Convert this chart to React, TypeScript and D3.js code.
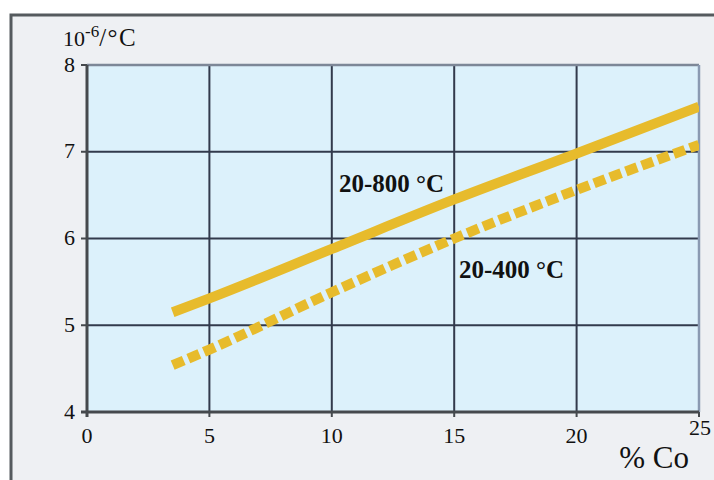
import React from 'react';
import * as d3 from 'd3';

// % Co on the x axis, expansion coefficient (10^-6/°C) on the y axis
const coPercent = [3.5, 5, 10, 15, 20, 25];
const range800 = [5.15, 5.31, 5.88, 6.45, 6.98, 7.52];
const range400 = [4.54, 4.72, 5.38, 6.0, 6.56, 7.08];
const xTicks = [0, 5, 10, 15, 20, 25];
const yTicks = [4, 5, 6, 7, 8];
const seriesLabels = ['20-800 °C', '20-400 °C'];

const width = 714;
const height = 480;
const margin = { left: 87, right: 15, top: 65, bottom: 68 };

const gold = '#E7BB2C';
const gridColor = '#323a4c';
const serif = '"Liberation Serif", "DejaVu Serif", serif';

export default function App() {
    const x = d3.scaleLinear().domain([0, 25]).range([margin.left, width - margin.right]);
    const y = d3.scaleLinear().domain([4, 8]).range([height - margin.bottom, margin.top]);

    const line = d3.line<number>()
        .x((_, i) => x(coPercent[i]))
        .y(d => y(d))
        .curve(d3.curveMonotoneX);

    const [x0, x1] = x.range();
    const [y0, y1] = y.range();

    return (
        <svg width={width} height={height} style={{ position: 'absolute', left: 0, top: 0 }}>
            <defs>
                <clipPath id="plotClip">
                    <rect x={x0} y={y1} width={x1 - x0} height={y0 - y1} />
                </clipPath>
            </defs>

            {/* outer frame */}
            <rect x={0} y={0} width={width} height={height} fill="#ffffff" />
            <rect x={11} y={15} width={width + 20} height={height + 20} fill="#eef0f3" stroke="#555a5e" strokeWidth={3} />

            {/* plot area */}
            <rect x={x0} y={y1} width={x1 - x0} height={y0 - y1} fill="#dcf1fb" />

            {/* grid */}
            {xTicks.slice(1, -1).map(t => (
                <line key={'gx' + t} x1={x(t)} x2={x(t)} y1={y1} y2={y0} stroke={gridColor} strokeWidth={2} />
            ))}
            {yTicks.slice(1, -1).map(t => (
                <line key={'gy' + t} x1={x0} x2={x1} y1={y(t)} y2={y(t)} stroke={gridColor} strokeWidth={2} />
            ))}
            {/* top and right border, lighter */}
            <line x1={x0} x2={x1} y1={y1} y2={y1} stroke="#7d8797" strokeWidth={2.5} />
            <line x1={x1} x2={x1} y1={y1} y2={y0} stroke="#8a9ab2" strokeWidth={2.5} />

            {/* series */}
            <g clipPath="url(#plotClip)">
                <path d={line(range800) || ''} fill="none" stroke={gold} strokeWidth={10} />
                <path d={line(range400) || ''} fill="none" stroke={gold} strokeWidth={10} strokeDasharray="12 5" />
            </g>

            {/* axes */}
            <line x1={x0} x2={x0} y1={y1} y2={y0 + 5} stroke="#45494d" strokeWidth={3} />
            <line x1={x0 - 6} x2={x1} y1={y0} y2={y0} stroke="#45494d" strokeWidth={3} />
            {yTicks.map(t => (
                <line key={'ty' + t} x1={x0 - 6} x2={x0} y1={y(t)} y2={y(t)} stroke="#45494d" strokeWidth={2} />
            ))}
            {xTicks.map(t => (
                <line key={'tx' + t} x1={x(t)} x2={x(t)} y1={y0} y2={y0 + 5} stroke="#45494d" strokeWidth={2} />
            ))}

            {/* tick labels */}
            <g fontFamily={serif} fontSize={22} fill="#111">
                {yTicks.map(t => (
                    <text key={'ly' + t} x={x0 - 12} y={y(t)} dy="0.3em" textAnchor="end">{t}</text>
                ))}
                {xTicks.map((t, i) => {
                    const last = i === xTicks.length - 1;
                    return (
                        <text key={'lx' + t} x={x(t) + (last ? 1 : 0)} y={last ? y0 + 23 : y0 + 31} textAnchor="middle">{t}</text>
                    );
                })}
                <text x={63} y={46}>
                    10<tspan dy={-9} fontSize={17}>-6</tspan><tspan dy={9} fontSize={25} letterSpacing={1.5}>/°C</tspan>
                </text>
                <text x={654} y={468} fontSize={31} textAnchor="middle">% Co</text>
            </g>

            {/* series labels */}
            <g fontFamily={serif} fontSize={25} fontWeight="bold" fill="#111">
                <text x={339} y={192}>{seriesLabels[0]}</text>
                <text x={459} y={278}>{seriesLabels[1]}</text>
            </g>
        </svg>
    );
}
